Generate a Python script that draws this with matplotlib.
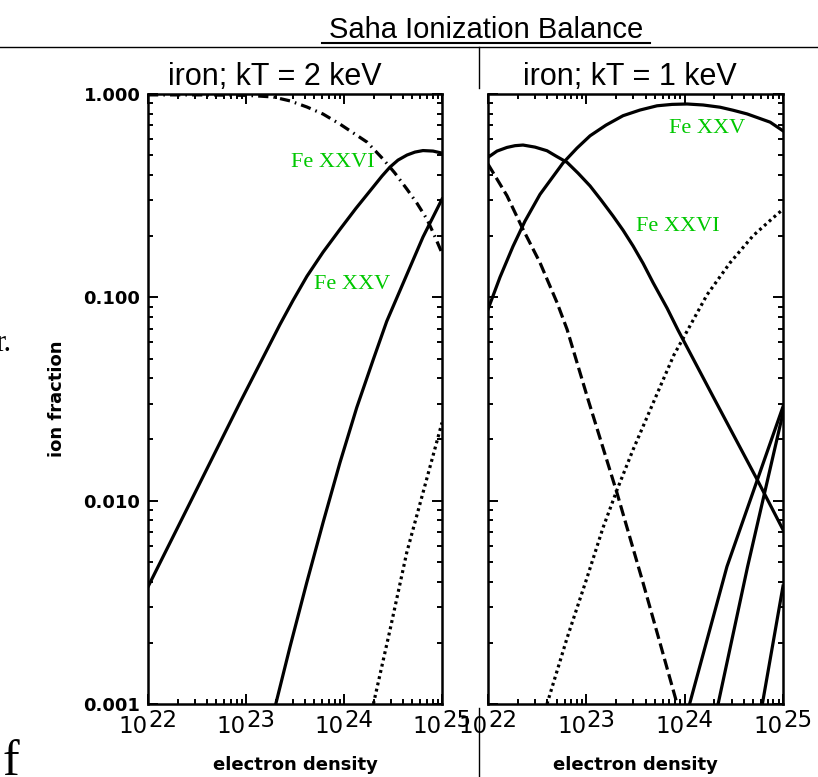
import numpy as np
import matplotlib.pyplot as plt
import matplotlib.transforms as mtransforms
from matplotlib.lines import Line2D
from matplotlib.ticker import FixedLocator, LogLocator, NullFormatter, FormatStrFormatter

W, H = 818, 777
GREEN = "#00c800"
HEAD = ["Liberation Sans", "DejaVu Sans"]
SERIF = ["Liberation Serif", "DejaVu Serif"]

# kT = 2 keV panel: log10(electron density) and ion fraction
hot_lead_logn = [22.0, 22.53, 23.01, 23.276, 23.449, 23.622, 23.786, 23.959, 24.235,
                 24.398, 24.52, 24.643, 24.745, 24.847, 24.918, 25.0]
hot_lead_frac = [0.99, 0.99, 0.985, 0.967, 0.925, 0.863, 0.797, 0.711, 0.580,
                 0.479, 0.408, 0.340, 0.290, 0.242, 0.204, 0.165]

hot_fe26_logn = [22.0, 22.429, 22.939, 23.347, 23.48, 23.622, 23.786, 23.959, 24.122,
                 24.296, 24.388, 24.469, 24.551, 24.643, 24.724, 24.806, 24.908, 25.0]
hot_fe26_frac = [0.00377, 0.00977, 0.0304, 0.0736, 0.0966, 0.127, 0.1667, 0.216, 0.274,
                 0.348, 0.395, 0.437, 0.473, 0.501, 0.518, 0.527, 0.524, 0.512]

hot_fe25_logn = [23.296, 23.449, 23.619, 23.789, 23.959, 24.13, 24.299, 24.436, 24.643,
                 24.806, 25.0]
hot_fe25_frac = [0.000966, 0.00191, 0.00394, 0.00789, 0.0154, 0.0287, 0.0495, 0.0762,
                 0.130, 0.198, 0.304]

hot_dot_logn = [24.30, 24.47, 24.64, 25.0]
hot_dot_frac = [0.001, 0.00232, 0.00555, 0.0242]

# kT = 1 keV panel
cool_fe26_logn = [22.0, 22.092, 22.193, 22.275, 22.356, 22.478, 22.60, 22.692, 22.804,
                  22.916, 23.038, 23.15, 23.272, 23.373, 23.475, 23.577, 23.679, 23.821,
                  23.933, 24.289, 24.737, 25.0]
cool_fe26_frac = [0.488, 0.524, 0.546, 0.557, 0.561, 0.548, 0.526, 0.495, 0.461,
                  0.408, 0.353, 0.301, 0.251, 0.214, 0.179, 0.147, 0.118, 0.0885,
                  0.0689, 0.0325, 0.0127, 0.0072]

cool_fe25_logn = [22.0, 22.122, 22.254, 22.376, 22.529, 22.763, 22.905, 23.038, 23.2,
                  23.373, 23.546, 23.719, 23.872, 24.024, 24.187, 24.36, 24.492, 24.635,
                  24.869, 25.0]
cool_fe25_frac = [0.0873, 0.1256, 0.178, 0.237, 0.321, 0.458, 0.542, 0.623, 0.703,
                  0.782, 0.834, 0.875, 0.889, 0.893, 0.883, 0.861, 0.832, 0.798,
                  0.727, 0.659]

cool_dash_logn = [22.0, 22.193, 22.356, 22.529, 22.702, 22.804, 23.017, 23.312, 23.577,
                  23.75, 23.923]
cool_dash_frac = [0.452, 0.316, 0.216, 0.148, 0.0942, 0.0696, 0.0315, 0.0109, 0.00394,
                  0.00199, 0.001]

cool_dot_logn = [22.60, 22.804, 23.007, 23.17, 23.312, 23.475, 23.75, 23.89, 24.024,
                 24.228, 24.462, 24.696, 24.899, 25.0]
cool_dot_frac = [0.001, 0.00211, 0.00418, 0.00737, 0.0113, 0.0178, 0.0363, 0.052, 0.0681,
                 0.103, 0.148, 0.201, 0.246, 0.271]

cool_low1_logn = [24.05, 24.43, 25.0]
cool_low1_frac = [0.001, 0.00474, 0.029]
cool_low2_logn = [24.34, 24.64, 25.0]
cool_low2_frac = [0.001, 0.00474, 0.027]
cool_low3_logn = [24.79, 25.0]
cool_low3_frac = [0.001, 0.0038]

x_decades = [22, 23, 24, 25]
y_ticks = [0.001, 0.01, 0.1, 1.0]

DASHDOT = (0, (3.2, 1.6, 0.5, 1.6))
DASHED = (0, (3.5, 1.5))
DOTTED = (0, (0.9, 1.1))
LW = 2.3


def px(x, y):
    return x / W, 1 - y / H


def style_axes(ax, show_ylabels):
    ax.set_xscale("log")
    ax.set_yscale("log")
    ax.set_xlim(1e22, 1e25)
    ax.set_ylim(0.001, 1.0)
    for sp in ax.spines.values():
        sp.set_linewidth(1.8)
    ax.xaxis.set_major_locator(FixedLocator([10.0 ** d for d in x_decades]))
    ax.xaxis.set_minor_locator(LogLocator(base=10, subs=np.arange(2, 10)))
    ax.xaxis.set_minor_formatter(NullFormatter())
    ax.set_xticklabels([])
    ax.yaxis.set_major_locator(FixedLocator(y_ticks))
    ax.yaxis.set_minor_locator(LogLocator(base=10, subs=np.arange(2, 10)))
    ax.yaxis.set_minor_formatter(NullFormatter())
    if show_ylabels:
        ax.yaxis.set_major_formatter(FormatStrFormatter("%.3f"))
    else:
        ax.set_yticklabels([])
    ax.tick_params(which="both", direction="in", top=True, right=True, width=1.4)
    ax.tick_params(which="major", length=7, pad=5.5, labelsize=13)
    ax.tick_params(which="minor", length=3.6)
    for lab in ax.get_yticklabels():
        lab.set_fontweight("bold")

    # tick labels of the form 10^NN
    trans = mtransforms.blended_transform_factory(ax.transData, ax.transAxes)
    for d in x_decades:
        ax.text(10.0 ** d, -0.048, "10", ha="right", va="baseline", fontsize=16.5,
                transform=trans, clip_on=False)
        ax.text(10.0 ** d, -0.038, str(d), ha="left", va="baseline", fontsize=16.5,
                transform=trans, clip_on=False)
    ax.text(0.5, -0.1, "electron density", ha="center", va="center",
            fontsize=13, fontweight="bold", transform=ax.transAxes)


fig = plt.figure(figsize=(W / 100, H / 100), dpi=100)

ax1 = fig.add_axes([148 / W, 1 - 704 / H, 294 / W, 610 / H])
ax2 = fig.add_axes([488 / W, 1 - 704 / H, 295 / W, 610 / H])

ax1.plot(10.0 ** np.array(hot_lead_logn), hot_lead_frac, color="black", lw=LW, ls=DASHDOT)
ax1.plot(10.0 ** np.array(hot_fe26_logn), hot_fe26_frac, color="black", lw=LW)
ax1.plot(10.0 ** np.array(hot_fe25_logn), hot_fe25_frac, color="black", lw=LW)
ax1.plot(10.0 ** np.array(hot_dot_logn), hot_dot_frac, color="black", lw=LW, ls=DOTTED)

ax2.plot(10.0 ** np.array(cool_fe26_logn), cool_fe26_frac, color="black", lw=LW)
ax2.plot(10.0 ** np.array(cool_fe25_logn), cool_fe25_frac, color="black", lw=LW)
ax2.plot(10.0 ** np.array(cool_dash_logn), cool_dash_frac, color="black", lw=LW, ls=DASHED)
ax2.plot(10.0 ** np.array(cool_dot_logn), cool_dot_frac, color="black", lw=LW, ls=DOTTED)
ax2.plot(10.0 ** np.array(cool_low1_logn), cool_low1_frac, color="black", lw=LW)
ax2.plot(10.0 ** np.array(cool_low2_logn), cool_low2_frac, color="black", lw=LW)
ax2.plot(10.0 ** np.array(cool_low3_logn), cool_low3_frac, color="black", lw=LW)

style_axes(ax1, True)
style_axes(ax2, False)

ax1.text(-0.31, 0.5, "ion fraction", rotation=90, ha="center", va="center",
         fontsize=13, fontweight="bold", transform=ax1.transAxes)

# ion labels
ax1.text(10 ** 23.89, 0.462, "Fe XXVI", color=GREEN, family=SERIF, fontsize=16, ha="center", va="center")
ax1.text(10 ** 24.08, 0.116, "Fe XXV", color=GREEN, family=SERIF, fontsize=16, ha="center", va="center")
ax2.text(10 ** 24.23, 0.673, "Fe XXV", color=GREEN, family=SERIF, fontsize=16, ha="center", va="center")
ax2.text(10 ** 23.93, 0.224, "Fe XXVI", color=GREEN, family=SERIF, fontsize=16, ha="center", va="center")

# headings
fig.text(*px(486, 38), "Saha Ionization Balance", family=HEAD, fontsize=21,
         ha="center", va="baseline")
fig.add_artist(Line2D([322 / W, 650 / W], [1 - 43 / H, 1 - 43 / H], color="black", lw=1.5))
fig.text(*px(275, 85), "iron; kT = 2 keV", family=HEAD, fontsize=22, ha="center", va="baseline")
fig.text(*px(630, 85), "iron; kT = 1 keV", family=HEAD, fontsize=22, ha="center", va="baseline")

# page rules
fig.add_artist(Line2D([0, 1], [1 - 47 / H, 1 - 47 / H], color="black", lw=1.0))
fig.add_artist(Line2D([479 / W, 479 / W], [1 - 47 / H, 1 - 88 / H], color="black", lw=1.0))
fig.add_artist(Line2D([479 / W, 479 / W], [1 - 708 / H, 0], color="black", lw=1.0))

# stray page text at the left edge
fig.text(*px(-5, 351), "r.", family=SERIF, fontsize=22, ha="left", va="baseline")
fig.text(*px(2, 775), "f", family=SERIF, fontsize=36, ha="left", va="baseline")

fig.savefig("out.png", dpi=100)
